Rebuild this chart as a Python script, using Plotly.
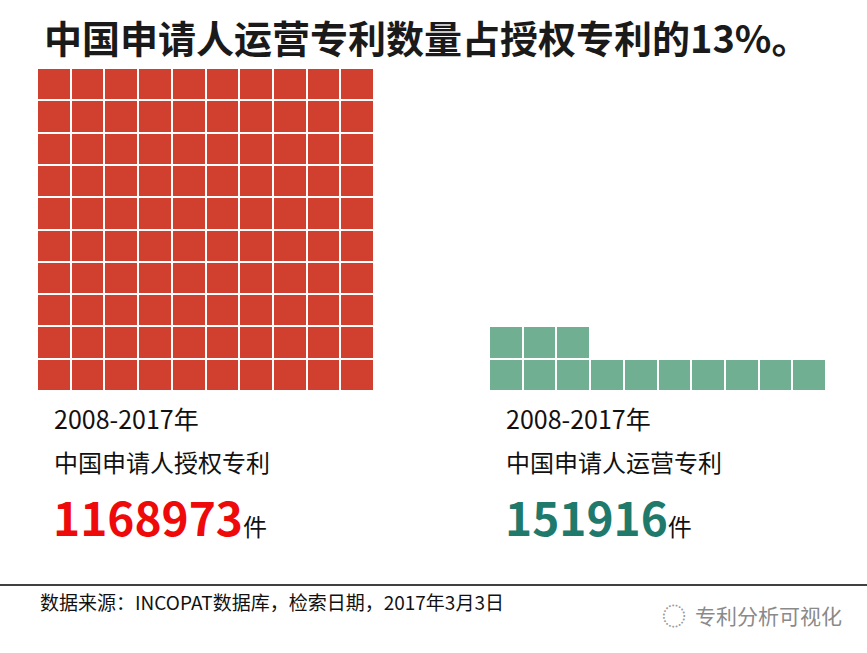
import plotly.graph_objects as go

W, H = 867, 653

title = "中国申请人运营专利数量占授权专利的13%。"
period = "2008-2017年"
labels = ["中国申请人授权专利", "中国申请人运营专利"]
counts = [1168973, 151916]
unit = "件"
cell_colors = ["#D1402F", "#71AF92"]
number_colors = ["#EE0A0A", "#1F7A6C"]
source = "数据来源：INCOPAT数据库，检索日期，2017年3月3日"
watermark = "专利分析可视化"
grid_n = 10

FONT = "Noto Sans CJK SC, Microsoft YaHei, sans-serif"


def px_x(x):
    return x / W


def px_y(y):
    return 1 - y / H


def waffle(count, total):
    # one cell = 1% of the granted total, filled row by row from the bottom
    filled = round(grid_n * grid_n * count / total)
    z = [[None] * grid_n for _ in range(grid_n)]
    for k in range(filled):
        z[k // grid_n][k % grid_n] = 1
    return z


fig = go.Figure()

# left / right grid positions in pixels
grid_left = [37, 489]
grid_width = 337
grid_top, grid_bottom = 68, 391
text_left = [53, 505]

for i, count in enumerate(counts):
    suffix = "" if i == 0 else str(i + 1)
    fig.add_trace(go.Heatmap(
        z=waffle(count, counts[0]),
        x=list(range(grid_n)),
        y=list(range(grid_n)),
        colorscale=[[0, cell_colors[i]], [1, cell_colors[i]]],
        showscale=False,
        xgap=2, ygap=2,
        hoverinfo="skip",
        xaxis="x" + suffix, yaxis="y" + suffix,
    ))
    axis = dict(range=[-0.5, grid_n - 0.5], showgrid=False, zeroline=False,
                showticklabels=False, ticks="", fixedrange=True)
    fig.update_layout({
        "xaxis" + suffix: dict(axis, domain=[px_x(grid_left[i]), px_x(grid_left[i] + grid_width)],
                               anchor="y" + suffix),
        "yaxis" + suffix: dict(axis, domain=[px_y(grid_bottom), px_y(grid_top)],
                               anchor="x" + suffix),
    })

    fig.add_annotation(text=period, x=px_x(text_left[i] - 1), y=px_y(418),
                       font=dict(size=25, color="#111111", family=FONT))
    fig.add_annotation(text=labels[i], x=px_x(text_left[i] - 1), y=px_y(461),
                       font=dict(size=24, color="#111111", family=FONT))
    fig.add_annotation(
        text=f"<b>{count}</b><span style='font-size:24px;color:#111111'>{unit}</span>",
        x=px_x(text_left[i] - 2), y=px_y(516),
        font=dict(size=46, color=number_colors[i], family=FONT))

fig.add_annotation(text=f"<b>{title}</b>", x=px_x(42), y=px_y(37),
                   font=dict(size=38, color="#1A1A1A", family=FONT))
fig.add_annotation(text=source, x=px_x(38), y=px_y(601),
                   font=dict(size=19, color="#111111", family=FONT))
fig.add_annotation(text=watermark, x=px_x(693), y=px_y(615),
                   font=dict(size=21, color="#8A8A8A", family=FONT))
fig.add_annotation(text="◌", x=px_x(660), y=px_y(614),
                   font=dict(size=24, color="#9A9A9A", family=FONT))

fig.update_annotations(xref="paper", yref="paper", xanchor="left", yanchor="middle",
                       showarrow=False)

# footer rule
fig.add_shape(type="line", xref="paper", yref="paper", x0=0, x1=1,
              y0=px_y(585), y1=px_y(585), line=dict(color="#000000", width=1.5))

fig.update_layout(
    width=W, height=H,
    margin=dict(l=0, r=0, t=0, b=0),
    paper_bgcolor="white", plot_bgcolor="white",
    showlegend=False,
)

# the page's default body margin would push the figure 8px down and right
fig.write_html("out.html", config={"displayModeBar": False},
               post_script="document.body.style.margin = '0px';")
